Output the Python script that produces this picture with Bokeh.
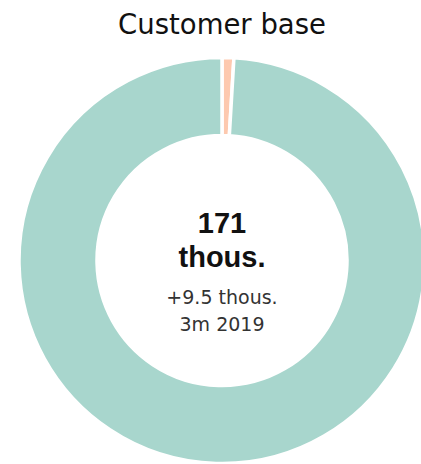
from math import pi
import numpy as np
from bokeh.plotting import figure
from bokeh.models import Range1d, ColumnDataSource
from bokeh.core.properties import value
from bokeh.embed import file_html
from bokeh.resources import INLINE

# data
segments = ["Other", "Customers"]
values = [1.6, 169.4]
colors = ["#FDC9AF", "#A8D6CD"]
title_text = "Customer base"
center_main = ["171", "thous."]
center_sub = ["+9.5 thous.", "3m 2019"]

W, H = 421, 464
p = figure(width=W, height=H, output_backend="svg", toolbar_location=None,
           x_range=Range1d(0, W), y_range=Range1d(0, H),
           min_border=0, outline_line_color=None)
p.axis.visible = False
p.grid.visible = False
p.background_fill_color = "white"
p.border_fill_color = "white"

def Y(page_y):
    return H - page_y

cx, cy = 221.5, Y(260)
r_out, r_in = 203, 125

vals = np.array(values, dtype=float)
frac = vals / vals.sum()
cum = np.concatenate([[0], np.cumsum(frac)])
start = pi / 2 - cum[:-1] * 2 * pi
end = pi / 2 - cum[1:] * 2 * pi
src = ColumnDataSource(dict(seg=segments, start=start, end=end, color=colors))
p.annular_wedge(x=cx, y=cy, inner_radius=r_in, outer_radius=r_out,
                start_angle="start", end_angle="end", direction="clock",
                fill_color="color", line_color="white", line_width=3.5, source=src)

p.text(x=[cx], y=[Y(23.5)], text=[title_text], text_font=value("DejaVu Sans"),
       text_font_size="27.5px", text_align="center", text_baseline="alphabetic",
       text_color="#111111")
p.text(x=[cx, cx], y=[Y(222), Y(256)], text=center_main,
       text_font=value("Liberation Sans"), text_font_size="29px", text_font_style="bold",
       text_align="center", text_baseline="alphabetic", text_color="#111111")
p.text(x=[cx, cx], y=[Y(296.5), Y(323.5)], text=center_sub,
       text_font=value("DejaVu Sans"), text_font_size="19px", text_align="center",
       text_baseline="alphabetic", text_color="#333333")

open("out.html", "w").write(file_html(p, INLINE))
